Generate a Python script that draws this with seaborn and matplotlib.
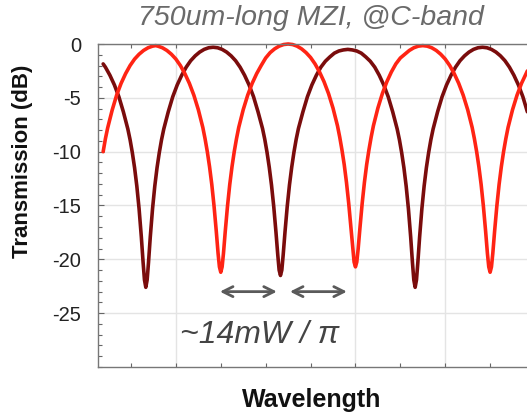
import matplotlib
matplotlib.use('Agg')
import matplotlib.pyplot as plt
import seaborn as sns
from matplotlib.ticker import MultipleLocator

# wavelength axis in arbitrary units (ticks are unlabeled), transmission in dB
wl_dark = [0.38, 0.43, 0.53, 0.63, 0.73, 0.83, 0.93, 0.98, 1.03, 1.08, 1.13, 1.18, 1.23, 1.27, 1.30,
           1.33, 1.36, 1.39, 1.43, 1.48, 1.53, 1.58, 1.63, 1.68, 1.73, 1.83, 1.93, 2.03, 2.13, 2.23,
           2.33, 2.43, 2.53, 2.63, 2.73, 2.83,
           2.93, 3.03, 3.13, 3.23, 3.33, 3.43, 3.53, 3.63, 3.73, 3.83, 3.93, 3.98, 4.03, 4.08, 4.13,
           4.18, 4.23, 4.27, 4.30, 4.33, 4.36, 4.39, 4.43, 4.48, 4.53, 4.58, 4.63, 4.68, 4.73, 4.83,
           4.93, 5.03, 5.13, 5.23, 5.33, 5.43, 5.53, 5.63, 5.73, 5.83,
           5.93, 6.03, 6.13, 6.23, 6.33, 6.43, 6.53, 6.63, 6.73, 6.83, 6.93, 6.98, 7.03, 7.08, 7.13,
           7.18, 7.23, 7.27, 7.30, 7.33, 7.36, 7.39, 7.43, 7.48, 7.53, 7.58, 7.63, 7.68, 7.73, 7.83,
           7.93, 8.03, 8.13, 8.23, 8.33, 8.43, 8.53, 8.63, 8.73, 8.83,
           8.93, 9.03, 9.13, 9.23, 9.33, 9.43, 9.53, 9.63, 9.73, 9.83]
tr_dark = [-1.85, -2.15, -2.9, -3.8, -4.9, -6.3, -7.9, -8.9, -10.1, -11.5, -13.2, -15.3, -17.9, -20.3, -21.9,
           -22.6, -21.9, -20.3, -17.9, -15.3, -13.2, -11.5, -10.1, -8.9, -7.9, -6.3, -4.9, -3.8, -2.9, -2.15,
           -1.55, -1.1, -0.75, -0.5, -0.35, -0.3,
           -0.35, -0.5, -0.75, -1.1, -1.55, -2.15, -2.9, -3.8, -4.9, -6.3, -7.85, -8.85, -10.05, -11.45, -13.1,
           -15.1, -17.5, -19.6, -21.0, -21.5, -21.0, -19.6, -17.5, -15.1, -13.1, -11.45, -10.05, -8.85, -7.85, -6.3,
           -4.9, -3.8, -2.9, -2.15, -1.6, -1.2, -0.85, -0.65, -0.55, -0.5,
           -0.55, -0.65, -0.85, -1.2, -1.6, -2.15, -2.9, -3.8, -4.9, -6.3, -7.9, -8.9, -10.1, -11.5, -13.2,
           -15.3, -17.9, -20.3, -21.9, -22.6, -21.9, -20.3, -17.9, -15.3, -13.2, -11.5, -10.1, -8.9, -7.9, -6.3,
           -4.9, -3.8, -2.9, -2.15, -1.55, -1.1, -0.75, -0.5, -0.35, -0.3,
           -0.35, -0.5, -0.75, -1.1, -1.55, -2.15, -2.9, -3.8, -4.9, -6.3]

wl_red = [0.38, 0.43, 0.48, 0.58, 0.68, 0.78, 0.88, 0.98, 1.08, 1.18, 1.28, 1.38, 1.48, 1.55,
          1.6, 1.7, 1.8, 1.9, 2.0, 2.1, 2.2, 2.3, 2.4, 2.5, 2.6, 2.65, 2.7, 2.75, 2.8, 2.85, 2.9,
          2.94, 2.97, 3.0, 3.03, 3.06, 3.1, 3.15, 3.2, 3.25, 3.3, 3.35, 3.4, 3.5, 3.6, 3.7, 3.8,
          3.9, 4.0, 4.1, 4.2, 4.3, 4.4, 4.5,
          4.6, 4.7, 4.8, 4.9, 5.0, 5.1, 5.2, 5.3, 5.4, 5.5, 5.6, 5.65, 5.7, 5.75, 5.8, 5.85, 5.9,
          5.94, 5.97, 6.0, 6.03, 6.06, 6.1, 6.15, 6.2, 6.25, 6.3, 6.35, 6.4, 6.5, 6.6, 6.7, 6.8,
          6.9, 7.0, 7.1, 7.2, 7.3, 7.4, 7.5,
          7.6, 7.7, 7.8, 7.9, 8.0, 8.1, 8.2, 8.3, 8.4, 8.5, 8.6, 8.65, 8.7, 8.75, 8.8, 8.85, 8.9,
          8.94, 8.97, 9.0, 9.03, 9.06, 9.1, 9.15, 9.2, 9.25, 9.3, 9.35, 9.4, 9.5, 9.6, 9.7, 9.8,
          9.83]
tr_red = [-10.0, -8.8, -7.8, -6.15, -4.75, -3.65, -2.75, -2.0, -1.4, -0.95, -0.6, -0.35, -0.2, -0.15,
          -0.2, -0.35, -0.6, -0.95, -1.4, -2.0, -2.75, -3.65, -4.75, -6.1, -7.75, -8.8, -10.0, -11.4, -13.05, -15.05, -17.4,
          -19.45, -20.7, -21.2, -20.7, -19.45, -17.4, -15.05, -13.05, -11.4, -10.0, -8.8, -7.75, -6.1, -4.75, -3.65, -2.75,
          -2.0, -1.3, -0.8, -0.45, -0.2, -0.05, 0.0,
          -0.05, -0.2, -0.45, -0.8, -1.25, -1.85, -2.6, -3.5, -4.6, -5.95, -7.6, -8.65, -9.85, -11.2, -12.85, -14.8, -17.1,
          -19.05, -20.25, -20.7, -20.25, -19.05, -17.1, -14.8, -12.85, -11.2, -9.85, -8.65, -7.6, -5.95, -4.6, -3.5, -2.6,
          -1.85, -1.3, -0.95, -0.6, -0.35, -0.2, -0.15,
          -0.2, -0.35, -0.6, -0.95, -1.4, -2.0, -2.75, -3.65, -4.75, -6.1, -7.75, -8.8, -10.0, -11.4, -13.05, -15.05, -17.4,
          -19.45, -20.7, -21.2, -20.7, -19.45, -17.4, -15.05, -13.05, -11.4, -10.0, -8.8, -7.75, -6.1, -4.75, -3.65, -2.75,
          -2.5]

y_ticks = [0, -5, -10, -15, -20, -25]
x_ticks = [1, 2, 3, 4, 5, 6, 7, 8, 9]
x_grid = [2, 6, 8]
arrow_spans = [(2.98, 4.25), (4.54, 5.81)]
arrow_level = -23.0

sns.set_theme(style='white')
plt.rcParams['font.family'] = ['Liberation Sans', 'DejaVu Sans']

fig = plt.figure(figsize=(5.27, 4.15), dpi=100)
ax = fig.add_axes([98/527, 1 - 367/415, 437/527, 323/415])

for xg in x_grid:
    ax.axvline(xg, color='#e4e4e4', lw=1, zorder=0)
for yg in y_ticks:
    ax.axhline(yg, color='#e4e4e4', lw=1, zorder=0)

sns.lineplot(x=wl_dark, y=tr_dark, ax=ax, color='#7a0c0c', lw=2.6, clip_on=False)
sns.lineplot(x=wl_red, y=tr_red, ax=ax, color='#ff2414', lw=2.6, clip_on=False)

ax.set_xlim(0.265, 10.0)
ax.set_ylim(-30, 0)
ax.set_yticks(y_ticks)
ax.set_yticklabels([str(t) for t in y_ticks])
ax.yaxis.set_minor_locator(MultipleLocator(1))
ax.set_xticks(x_ticks)
ax.set_xticklabels([])
ax.tick_params(axis='y', which='major', direction='in', length=4, width=0.8,
               color='#666', labelsize=14.5, labelcolor='#222', pad=12, left=True)
ax.tick_params(axis='y', which='minor', direction='in', length=3, width=0.8,
               color='#666', left=True)
ax.tick_params(axis='x', which='major', direction='in', length=3, width=0.8,
               color='#666', bottom=True, top=True)
for side in ['left', 'bottom', 'top', 'right']:
    ax.spines[side].set_color('#777')
    ax.spines[side].set_linewidth(1)
ax.set_xlabel('')
ax.set_ylabel('')

for a, b in arrow_spans:
    ax.annotate('', xy=(b, arrow_level), xytext=(a, arrow_level),
                arrowprops=dict(arrowstyle='<->', color='#5a5a5a', lw=2,
                                mutation_scale=18, shrinkA=0, shrinkB=0))
ax.text(2.09, -27.0, '~14mW / \u03c0', fontsize=23, style='italic', color='#444',
        ha='left', va='center')

fig.text(311/527, 1 - 18/415, '750um-long MZI, @C-band', fontsize=20.5,
         style='italic', color='#6a6a6a', ha='center', va='center')
fig.text(23/527, 1 - 161/415, 'Transmission (dB)', fontsize=16, fontweight='bold',
         color='#111', rotation=90, ha='center', va='center')
fig.text(312/527, 1 - 400/415, 'Wavelength', fontsize=18, fontweight='bold',
         color='#111', ha='center', va='center')

fig.savefig('out.png', dpi=100)
